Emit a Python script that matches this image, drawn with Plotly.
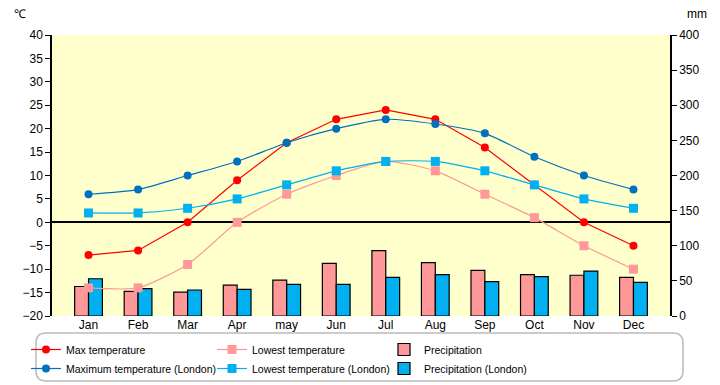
import plotly.graph_objects as go

months = ["Jan", "Feb", "Mar", "Apr", "may", "Jun", "Jul", "Aug", "Sep", "Oct", "Nov", "Dec"]
max_temp = [-7, -6, 0, 9, 17, 22, 24, 22, 16, 8, 0, -5]
low_temp = [-14, -14, -9, 0, 6, 10, 13, 11, 6, 1, -5, -10]
precip = [42, 35, 34, 44, 51, 75, 93, 76, 65, 59, 58, 55]
max_london = [6, 7, 10, 13, 17, 20, 22, 21, 19, 14, 10, 7]
low_london = [2, 2, 3, 5, 8, 11, 13, 13, 11, 8, 5, 3]
precip_london = [53, 39, 37, 38, 45, 45, 55, 59, 49, 56, 64, 48]

FONT = "Liberation Sans, Arial, sans-serif"

# the page body has an 8px margin, so the figure is laid out in coordinates shifted by 8px
OFF = 8
W, H = 720 - OFF, 385 - OFF
L, T = 52 - OFF, 35 - OFF
pw, ph = 618, 281
R = W - L - pw
B = H - T - ph


def px2x(p):  # page px -> paper x
    return (p - OFF - L) / pw


def px2y(p):  # page px -> paper y
    return (T + ph - (p - OFF)) / ph


def cx(p):  # page px -> container x
    return (p - OFF) / W


def cy(p):  # page px -> container y
    return 1 - (p - OFF) / H


fig = go.Figure()

fig.add_trace(go.Scatter(x=months, y=max_temp, name="Max temperature", mode="lines+markers",
                         yaxis="y2", legend="legend", line=dict(color="#FF0000", width=1.2),
                         marker=dict(symbol="circle", size=8, color="#FF0000")))
fig.add_trace(go.Scatter(x=months, y=max_london, name="Maximum temperature (London)", mode="lines+markers",
                         yaxis="y2", legend="legend",
                         line=dict(color="#0070C0", width=1.2, shape="spline", smoothing=0.6),
                         marker=dict(symbol="circle", size=8, color="#0070C0")))
fig.add_trace(go.Scatter(x=months, y=low_temp, name="Lowest temperature", mode="lines+markers",
                         yaxis="y2", legend="legend2",
                         line=dict(color="#FF9999", width=1.2, shape="spline", smoothing=0.6),
                         marker=dict(symbol="square", size=9, color="#FF9999")))
fig.add_trace(go.Scatter(x=months, y=low_london, name="Lowest temperature (London)", mode="lines+markers",
                         yaxis="y2", legend="legend2",
                         line=dict(color="#00B0F0", width=1.2, shape="spline", smoothing=0.6),
                         marker=dict(symbol="square", size=9, color="#00B0F0")))
fig.add_trace(go.Bar(x=months, y=precip, name="Precipitation", yaxis="y", legend="legend3",
                     marker=dict(color="#FF9999", line=dict(color="black", width=1.2))))
fig.add_trace(go.Bar(x=months, y=precip_london, name="Precipitation (London)", yaxis="y", legend="legend3",
                     marker=dict(color="#00B0F0", line=dict(color="black", width=1.2))))

# rounded legend frame (page px 36..683 x 333..381)
x0, x1 = px2x(36), px2x(683)
y0, y1 = px2y(381), px2y(333)
rx, ry = 10 / pw, 10 / ph
path = (f"M {x0+rx},{y1} L {x1-rx},{y1} Q {x1},{y1} {x1},{y1-ry} "
        f"L {x1},{y0+ry} Q {x1},{y0} {x1-rx},{y0} L {x0+rx},{y0} "
        f"Q {x0},{y0} {x0},{y0+ry} L {x0},{y1-ry} Q {x0},{y1} {x0+rx},{y1} Z")


def leg(xpx):
    return dict(orientation="v", xref="container", yref="container",
                x=cx(xpx), xanchor="left", y=cy(335), yanchor="top",
                bgcolor="rgba(0,0,0,0)", borderwidth=0, tracegroupgap=0,
                font=dict(family=FONT, size=10.5), traceorder="normal", itemwidth=30)


fig.update_layout(
    width=W, height=H,
    margin=dict(l=L, r=R, t=T, b=B, pad=0, autoexpand=False),
    paper_bgcolor="white",
    plot_bgcolor="#FFFFCC",
    font=dict(family=FONT, size=12, color="black"),
    barmode="group", bargap=0.44, bargroupgap=0,
    showlegend=True,
    legend=leg(26),
    legend2=leg(212),
    legend3=leg(384),
    xaxis=dict(type="category", showgrid=False, ticks="", showline=False,
               tickfont=dict(size=12), zeroline=False),
    yaxis=dict(range=[0, 400], dtick=50, side="right", showgrid=False, zeroline=False,
               showline=True, linecolor="black", linewidth=1.5, ticks="outside",
               ticklen=5, tickcolor="black", tickfont=dict(size=12)),
    yaxis2=dict(range=[-20, 40], dtick=5, side="left", overlaying="y", showgrid=False,
                zeroline=True, zerolinecolor="black", zerolinewidth=1.5,
                showline=True, linecolor="black", linewidth=1.5, ticks="outside",
                ticklen=5, tickcolor="black", tickfont=dict(size=12)),
    shapes=[dict(type="path", path=path, xref="paper", yref="paper",
                 line=dict(color="#BBBBBB", width=1.5), fillcolor="rgba(0,0,0,0)", layer="below")],
    annotations=[
        dict(text="℃", x=px2x(20), y=px2y(14), xref="paper", yref="paper", showarrow=False,
             xanchor="center", yanchor="middle", font=dict(size=12)),
        dict(text="mm", x=px2x(697), y=px2y(14), xref="paper", yref="paper", showarrow=False,
             xanchor="center", yanchor="middle", font=dict(size=12)),
    ],
)

fig.write_html("out.html")
